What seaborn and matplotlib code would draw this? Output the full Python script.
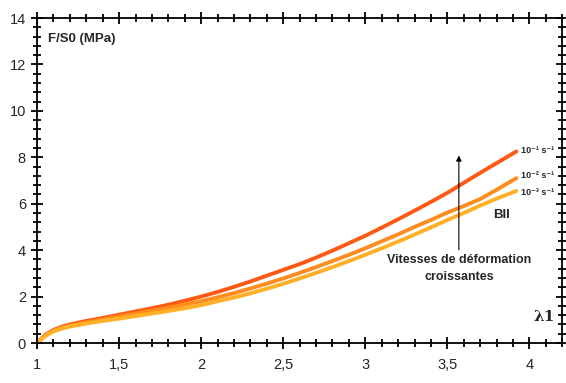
import numpy as np
import pandas as pd
import matplotlib
matplotlib.use("Agg")
import matplotlib.pyplot as plt
from matplotlib.ticker import MultipleLocator, FuncFormatter
import seaborn as sns

# Data
stretch = [1.0, 1.02, 1.05, 1.1, 1.15, 1.2, 1.3, 1.4, 1.5, 1.6, 1.7, 1.8, 1.9,
           2.0, 2.1, 2.2, 2.3, 2.4, 2.5, 2.6, 2.7, 2.8, 2.9, 3.0, 3.1, 3.2,
           3.3, 3.4, 3.5, 3.6, 3.7, 3.8, 3.92]
stress_fast = [0, 0.15, 0.35, 0.56, 0.7, 0.8, 0.95, 1.08, 1.22, 1.36, 1.5, 1.65,
               1.82, 2.0, 2.2, 2.42, 2.65, 2.9, 3.15, 3.4, 3.68, 3.98, 4.3, 4.62,
               4.97, 5.33, 5.7, 6.08, 6.47, 6.9, 7.33, 7.75, 8.25]
stress_mid = [0, 0.14, 0.33, 0.53, 0.66, 0.75, 0.89, 1.01, 1.14, 1.26, 1.39, 1.52,
              1.66, 1.8, 1.97, 2.15, 2.35, 2.56, 2.78, 3.02, 3.27, 3.53, 3.8, 4.08,
              4.38, 4.68, 5.0, 5.3, 5.62, 5.9, 6.2, 6.6, 7.1]
stress_slow = [0, 0.12, 0.3, 0.5, 0.62, 0.71, 0.84, 0.95, 1.05, 1.16, 1.27, 1.38,
               1.5, 1.63, 1.8, 1.96, 2.14, 2.34, 2.55, 2.78, 3.02, 3.27, 3.53, 3.8,
               4.08, 4.37, 4.67, 4.98, 5.3, 5.6, 5.92, 6.22, 6.55]
rates = ["1e-1", "1e-2", "1e-3"]
rate_labels = ["10⁻¹ s⁻¹", "10⁻² s⁻¹", "10⁻³ s⁻¹"]
colors = ["#ff5a14", "#ff8c1e", "#ffb026"]

df = pd.DataFrame({
    "stretch": stretch * 3,
    "stress": stress_fast + stress_mid + stress_slow,
    "rate": [r for r in rates for _ in stretch],
})

sns.set_style("ticks")
plt.rcParams["font.family"] = ["Liberation Sans", "DejaVu Sans"]

fig = plt.figure(figsize=(5.66, 3.83), dpi=100)
ax = fig.add_axes([0.0654, 0.1044, 0.928, 0.8486])

sns.lineplot(data=df, x="stretch", y="stress", hue="rate",
             palette=dict(zip(rates, colors)), linewidth=2.8,
             legend=False, ax=ax)

ax.set_xlim(1, 4.2)
ax.set_ylim(0, 14)
ax.set_xlabel("")
ax.set_ylabel("")
ax.xaxis.set_major_locator(MultipleLocator(0.5))
ax.xaxis.set_minor_locator(MultipleLocator(0.1))
ax.yaxis.set_major_locator(MultipleLocator(2))
ax.yaxis.set_minor_locator(MultipleLocator(0.4))
ax.xaxis.set_major_formatter(FuncFormatter(lambda v, p: f"{v:g}".replace(".", ",")))
for side in ax.spines.values():
    side.set_color("black")
    side.set_linewidth(1.3)

# ticks on all four sides
ax.tick_params(which="major", direction="inout", length=9, width=1.3,
               color="black", top=True, right=True, labelsize=10.5)
ax.tick_params(which="minor", direction="inout", length=6, width=1.3,
               color="black", top=True, right=True)
ax.tick_params(axis="x", which="major", pad=6)

# end labels of the curves
ends = [stress_fast[-1], stress_mid[-1], stress_slow[-1]]
offsets = [0.05, 0.1, -0.05]
for lab, yv, off in zip(rate_labels, ends, offsets):
    ax.text(stretch[-1] + 0.03, yv + off, lab, fontsize=6.5, fontweight="bold",
            va="center", ha="left")

ax.annotate("", xy=(3.57, 8.2), xytext=(3.57, 3.9),
            arrowprops=dict(arrowstyle="-|>", color="black", lw=0.8,
                            mutation_scale=8))
ax.text(3.57, 3.2, "Vitesses de déformation\ncroissantes", ha="center",
        va="center", fontsize=9, fontweight="bold", linespacing=1.5)
ax.text(3.83, 5.5, "BII", ha="center", va="center", fontsize=9.5,
        fontweight="bold")
ax.text(0.02, 0.955, "F/S0 (MPa)", transform=ax.transAxes, ha="left",
        va="top", fontsize=9.5, fontweight="bold")
ax.text(0.985, 0.08, "λ1", transform=ax.transAxes, ha="right", va="center",
        fontsize=11, fontweight="bold", family=["DejaVu Serif"])

fig.savefig("out.png", dpi=100)
